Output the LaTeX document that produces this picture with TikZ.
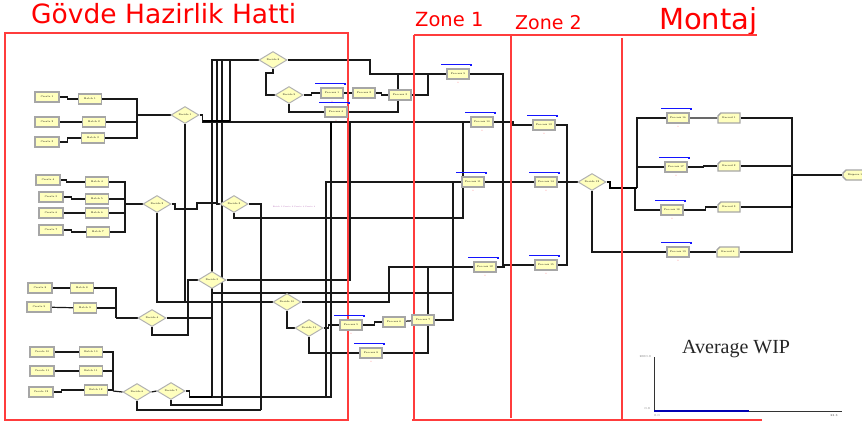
\documentclass[tikz,border=0pt]{standalone}
\usepackage{fontspec}
\newfontfamily\dejavu{DejaVu Sans}
\newfontfamily\lserif{Liberation Serif}
\usetikzlibrary{shapes.geometric,shapes.misc,backgrounds}
\definecolor{modfill}{RGB}{255,255,190}
\definecolor{frame}{RGB}{255,60,60}
\definecolor{qblue}{RGB}{20,20,255}
\begin{document}
\begin{tikzpicture}[x=1pt,y=-1pt,
  mod/.style={draw=gray!70, line width=1.4pt, fill=modfill, inner sep=0pt,
    minimum width=23pt, minimum height=10pt, font=\fontsize{2.5}{3}\selectfont},
  dc/.style={diamond, draw=gray!60, line width=1pt, fill=modfill, inner sep=0pt,
    minimum width=28pt, minimum height=17pt, font=\fontsize{2.5}{3}\selectfont},
  rec/.style={mod, chamfered rectangle, chamfered rectangle corners=north west,
    chamfered rectangle xsep=2pt, chamfered rectangle ysep=2pt},
  dsp/.style={mod, chamfered rectangle, chamfered rectangle corners={north west,south west},
    chamfered rectangle xsep=2pt, chamfered rectangle ysep=2pt},
  ln/.style={draw=black!90, line width=1.2pt},
  tk/.style={draw=black, line width=2pt},
  qbar/.style={draw=qblue, line width=1.6pt},
  fr/.style={draw=frame, line width=1.2pt},
  ttl/.style={text=red, anchor=base west, inner sep=0pt},
  cnt/.style={text=red!70, font=\fontsize{2}{2}\selectfont, inner sep=0pt},
  ax/.style={font=\fontsize{3}{3}\selectfont, text=black!70, inner sep=0pt}]
\useasboundingbox (0,0) rectangle (862,424);

% ---------- red frames and titles ----------
\node[ttl, font=\dejavu\fontsize{26.5}{28}\selectfont] (tg) at (31,23) {Gövde Hazirlik Hatti};
\node[ttl, font=\dejavu\fontsize{19.5}{21}\selectfont] (tz1) at (415,26) {Zone 1};
\node[ttl, font=\dejavu\fontsize{19}{21}\selectfont] (tz2) at (515,29) {Zone 2};
\node[ttl, font=\dejavu\fontsize{29}{31}\selectfont] (tm) at (659,29) {Montaj};
\draw[fr] (5,33) rectangle (348,420);
\draw[fr] (414,35) -- (757,35);
\draw[fr] (414,35) -- (414,420);
\draw[fr] (511,35) -- (511,418);
\draw[fr] (622,38) -- (622,420);
\draw[fr] (412,420) -- (762,420);

% ---------- modules ----------
\foreach \n/\x/\y/\t in {c1/47/97/Create 1, c2/47/122/Create 2, c3/47/142/Create 3,
  c4/48/180/Create 4, c5/51/197/Create 5, c6/51/213/Create 6, c7/51/230/Create 7,
  c8/40/288/Create 8, c9/39/307/Create 9, c10/42/352/Create 10, c11/42/371/Create 11, c12/41/392/Create 12}
  \node[mod, minimum width=24pt] (\n) at (\x,\y) {\t};
\foreach \n/\x/\y/\t in {b1/90/99/Batch 1, b2/94/122/Batch 2, b3/93/138/Batch 3,
  b4/97/182/Batch 4, b5/97/199/Batch 5, b6/97/213/Batch 6, b7/98/232/Batch 7,
  b8/82/288/Batch 8, b9/85/308/Batch 9, b10/91/352/Batch 10, b11/91/371/Batch 11, b12/96/390/Batch 12}
  \node[mod] (\n) at (\x,\y) {\t};
\foreach \n/\x/\y/\t in {d1/185/115/Decide 1, d2/157/204/Decide 2, d3/234/204/Decide 3,
  d4/152/318/Decide 4, d5/212/280/Decide 5, d6/137/392/Decide 6, d7/171/391/Decide 7,
  d8/273/60/Decide 8, d9/289/95/Decide 9, d10/287/302/Decide 10, d11/309/328/Decide 11, d12/592/182/Decide 12}
  \node[dc] (\n) at (\x,\y) {\t};
\foreach \n/\x/\y/\t in {p1/332/93/Process 1, p2/364/93/Process 2, p3/400/95/Process 3, p4/336/112/Process 4,
  p5/351/325/Process 5, p6/394/322/Process 6, p7/423/320/Process 7, p8/371/353/Process 8,
  q1/458/74/Process 9, q2/482/122/Process 10, q3/473/182/Process 11, q4/485/267/Process 12,
  r1/544/125/Process 13, r2/546/182/Process 14, r3/546/265/Process 15,
  s1/678/118/Process 16, s2/676/167/Process 17, s3/672/210/Process 18, s4/678/252/Process 19}
  \node[mod, minimum width=22pt] (\n) at (\x,\y) {\t};
\foreach \n/\x/\y/\t in {t1/729/118/Record 1, t2/729/166/Record 2, t3/729/207/Record 3, t4/728/252/Record 4}
  \node[rec, minimum width=22pt] (\n) at (\x,\y) {\t};
\node[dsp, minimum width=24pt] (disp) at (855,175) {Dispose 1};

% queue bars and counters
\foreach \n in {p1,p4,p5,p8,q1,q2,q3,q4,r1,r2,r3,s1,s2,s3,s4}{
  \draw[qbar] ([xshift=-5pt,yshift=4pt]\n.north west) -- ([xshift=1pt,yshift=4pt]\n.north east) -- ++(0,1.5);
  \node[cnt] at ([yshift=-3pt]\n.south) {0};
}

% ---------- connectors ----------
\begin{scope}[on background layer]
\begin{scope}[ln]
% group 1
\draw (c1.east) -- ++(8,0) |- (b1.west);
\draw (c2) -- (b2);
\draw (c3.east) -- ++(8,0) |- (b3.west);
\coordinate (m1) at (137,115);
\draw (b1.east) -| (m1);
\draw (b2.east) -| (m1);
\draw (b3.east) -| (m1);
\draw (m1) -- (d1.west);
% group 2
\draw (c4.east) -- ++(6,0) |- (b4.west);
\draw (c5.east) -- ++(8,0) |- (b5.west);
\draw (c6) -- (b6);
\draw (c7.east) -- ++(8,0) |- (b7.west);
\coordinate (m2) at (125,204);
\foreach \b in {b4,b5,b6,b7} \draw (\b.east) -| (m2);
\draw (m2) -- (d2.west);
% group 3
\draw (c8) -- (b8);
\draw (c9) -- (b9);
\coordinate (m3) at (116,318);
\draw (b8.east) -| (m3);
\draw (b9.east) -| (m3);
\draw (m3) -- (d4.west);
% group 4
\draw (c10.east) -- ++(8,0) |- (b10.west);
\draw (c11) -- (b11);
\draw (c12.east) -- ++(8,0) |- (b12.west);
\coordinate (m4) at (113,391);
\foreach \b in {b10,b11,b12} \draw (\b.east) -| (m4);
\draw (m4) -- (d6.west);
\draw (d6.east) -- (d7.west);

% decide 1
\draw (d1.east) -- ++(3,0) |- (q2.west);
\draw (230,122) |- (d8.west);
\draw (d1.south) |- (d10.west);
\draw (d2.south) |- (d10.west);
% decide 2 -> decide 3
\draw (d2.east) -- (175,204) -- (175,209) -- (197,209) -- (197,203) -- (217,203) -- (217,204) -- (d3.west);
\draw (217,203) |- (d8.west);
% decide 3
\draw (d3.east) -| (261,410);
\draw (d6.south) |- (261,410);
\draw (d3.south) |- (463,218) |- (q2.west);
% decide 4 / 5
\draw (d4.east) -- (212,318);
\draw (212,397) |- (d8.west);
\draw (d4.south) |- (188,335) |- (d5.west);
\draw (d5.east) -| (350,122);
\draw (d5.south) |- (453,293) |- (q3.west);
% decide 7
\draw (d7.east) -- ++(4,0) |- (331,397) -- (331,122);
\draw (326,397) |- (q3.west);
\draw (d7.south) |- (222,405) |- (d8.west);
% upper branch
\draw (d8.east) -| (370,74) -- (q1.west);
\draw (d8.south) -- ++(0,4) -- ++(-7,0) |- (d9.west);
\draw (d9.east) -- ++(8,0) |- (p1.west);
\draw (d9.south) |- (p4.west);
\draw (p1) -- (p2);
\draw (p2.east) -- ++(6,0) |- (p3.west);
\draw (p3.east) -| (428,74);
\draw (p4.east) -| (398,74);
% lower branch
\draw (d10.east) -| (389,267) -- (q4.west);
\draw (d10.south) |- (d11.west);
\draw (d11.east) -- ++(5,0) |- (p5.west);
\draw (p5.east) -- ++(12,0) |- (p6.west);
\draw (p6) -- (p7);
\draw (p7.east) -| (453,182);
\draw (d11.south) |- (p8.west);
\draw (p8.east) -| (428,267);
% zone 1 -> zone 2
\draw (q1.east) -| (503,265) -- (r3.west);
\draw (q4.east) -- ++(8,0) |- (r3.west);
\draw (q2.east) -- (513,122) |- (r1.west);
\draw (q3) -- (r2);
\draw (r1.east) -| (567,182) -- (d12.west);
\draw (r2) -- (d12);
\draw (r3.east) -| (567,182);
% montaj
\draw (d12.south) |- (s4.west);
\draw (637,188) |- (s1.west);
\draw (637,188) |- (s2.west);
\draw (635,188) |- (s3.west);
\draw (s1) -- (t1);
\draw (s2.east) -- ++(16,0) |- (t2.west);
\draw (s3.east) -- ++(22,0) |- (t3.west);
\draw (s4.east) -- ++(20,0) |- (t4.west);
\foreach \t in {t1,t2,t3,t4} \draw (\t.east) -| (792,175);
\draw (792,175) -- (disp.west);
\end{scope}
\begin{scope}[tk]
\draw (d12.east) -- ++(3,0) |- (637,188);
\draw (792,176) -- (792,208);
\draw (203,121) -- (230,121);
\draw (d7.east) ++(4,6) -- (212,397);
\draw (331,122) -- (331,140);
\end{scope}
\end{scope}

% tiny label along decide 3
\node[font=\fontsize{2}{2}\selectfont, text=violet!60, inner sep=0pt] (lbl) at (294,207) {Batch 1.Create 2.Create 3.Create 4};

% ---------- chart ----------
\node[font=\lserif\fontsize{20}{22}\selectfont, anchor=base west, inner sep=0pt, text=black!85] (wip) at (682,353) {Average WIP};
\coordinate (o) at (654,411);
\draw[black!80, line width=0.8pt] (654,357) -- (o) -- (842,411);
\draw[blue!70!black, line width=1.6pt] (o) -- (749,411);
\node[ax, anchor=east] (ylab1) at (651,357) {1000.0};
\node[ax, anchor=east] (ylab0) at (650,409) {0.0};
\node[ax] (xlab0) at (657,416) {0.0};
\node[ax] (xlab1) at (834,416) {23.3};
\end{tikzpicture}
\end{document}
